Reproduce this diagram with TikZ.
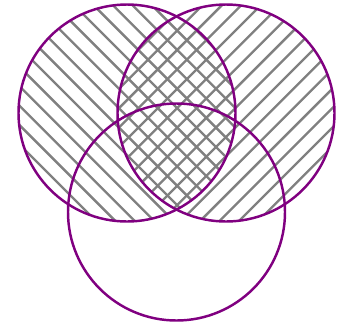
\documentclass[tikz,border=0pt]{standalone}
\definecolor{vennpurple}{RGB}{128,0,128}
\tikzset{
  ring/.style={draw=vennpurple, line width=2.1pt},
  hatch/.style={gray, line width=2pt}
}
\begin{document}
\begin{tikzpicture}[x=0.03cm, y=-0.03cm]
            \useasboundingbox (0,0) rectangle (340,325);
            \coordinate (A) at (127,113);
            \coordinate (B) at (226,113);
            \coordinate (C) at (176.5,212);
            % hatching of the two upper sets
            \begin{scope}
                \clip (A) circle (108.5);
                \foreach \k in {-7,...,11}
                    \draw[hatch] ({-28+19.4*\k},0) -- ++(240,240);
            \end{scope}
            \begin{scope}
                \clip (B) circle (108.5);
                \foreach \k in {-13,...,6}
                    \draw[hatch] ({401.7+19.4*\k},0) -- ++(-240,240);
            \end{scope}
            \draw[ring] (A) circle (108.5);
            \draw[ring] (B) circle (108.5);
            \draw[ring] (C) circle (108.5);
        \end{tikzpicture}
\end{document}
